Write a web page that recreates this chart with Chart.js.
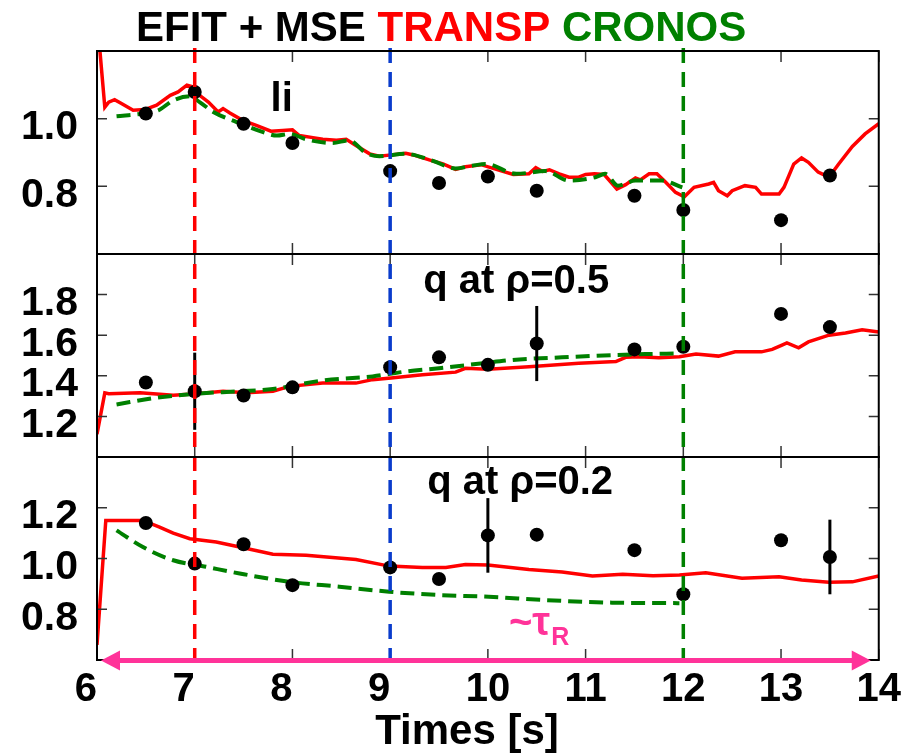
<!DOCTYPE html>
<html>
<head>
<meta charset="utf-8">
<script src="https://cdn.jsdelivr.net/npm/chart.js@4.4.1/dist/chart.umd.min.js"></script>
<style>
  html, body { margin: 0; padding: 0; background: #fff; }
  canvas { display: block; }
</style>
</head>
<body>
<canvas id="chart" width="907" height="754"></canvas>
<script>
// ---- EFIT + MSE reconstructions (dots) ----
const efitTimes = [6.5, 7.0, 7.5, 8.0, 9.0, 9.5, 10.0, 10.5, 11.5, 12.0, 13.0, 13.5];
const efitLi    = [1.015, 1.079, 0.985, 0.928, 0.845, 0.810, 0.829, 0.787, 0.772, 0.730, 0.700, 0.832];
const efitQ05   = [1.367, 1.324, 1.303, 1.343, 1.442, 1.491, 1.454, 1.559, 1.530, 1.543, 1.705, 1.640];
const efitQ05Err = [0, 0.19, 0, 0, 0, 0, 0, 0.185, 0, 0, 0, 0];
const efitQ02   = [1.140, 0.980, 1.056, 0.895, 0.965, 0.919, 1.091, 1.094, 1.033, 0.859, 1.072, 1.006];
const efitQ02Err = [0, 0, 0, 0, 0, 0, 0.147, 0, 0, 0, 0, 0.147];

// ---- TRANSP (red) ----
const transpLiTimes = [6.0, 6.03, 6.08, 6.12, 6.18, 6.25, 6.37, 6.49, 6.61, 6.75, 6.83, 6.92, 6.98, 7.05, 7.14, 7.24, 7.29, 7.36, 7.49, 7.63, 7.78, 7.9, 8.0, 8.07, 8.21, 8.31, 8.45, 8.55, 8.65, 8.79, 8.89, 9.01, 9.16, 9.26, 9.4, 9.54, 9.67, 9.77, 9.93, 10.12, 10.26, 10.42, 10.49, 10.56, 10.63, 10.73, 10.83, 10.93, 11.0, 11.09, 11.19, 11.26, 11.32, 11.41, 11.51, 11.56, 11.65, 11.73, 11.82, 11.92, 12.01, 12.11, 12.26, 12.31, 12.36, 12.45, 12.5, 12.63, 12.74, 12.8, 12.98, 13.03, 13.13, 13.21, 13.28, 13.38, 13.49, 13.59, 13.73, 13.86, 14.0];
const transpLi      = [1.25, 1.2, 1.034, 1.049, 1.056, 1.045, 1.025, 1.027, 1.04, 1.069, 1.079, 1.099, 1.094, 1.069, 1.049, 1.02, 1.03, 1.017, 0.995, 0.98, 0.963, 0.965, 0.967, 0.95, 0.944, 0.939, 0.936, 0.939, 0.921, 0.896, 0.889, 0.893, 0.898, 0.891, 0.878, 0.866, 0.85, 0.858, 0.864, 0.847, 0.835, 0.837, 0.855, 0.844, 0.849, 0.837, 0.827, 0.827, 0.835, 0.837, 0.835, 0.812, 0.792, 0.805, 0.825, 0.819, 0.837, 0.837, 0.812, 0.782, 0.769, 0.797, 0.807, 0.812, 0.787, 0.772, 0.787, 0.802, 0.797, 0.777, 0.777, 0.797, 0.866, 0.884, 0.871, 0.842, 0.827, 0.866, 0.918, 0.955, 0.985];

const transpQ05Times = [6.0, 6.08, 6.12, 6.44, 6.78, 7.02, 7.29, 7.53, 7.8, 7.97, 8.31, 8.65, 8.82, 9.01, 9.33, 9.67, 9.77, 10.0, 10.42, 10.93, 11.31, 11.41, 11.55, 11.75, 11.96, 12.13, 12.36, 12.53, 12.8, 12.91, 13.01, 13.06, 13.18, 13.28, 13.49, 13.66, 13.83, 14.0];
const transpQ05      = [1.113, 1.316, 1.312, 1.316, 1.304, 1.312, 1.324, 1.316, 1.324, 1.348, 1.364, 1.364, 1.381, 1.389, 1.405, 1.418, 1.437, 1.432, 1.445, 1.462, 1.47, 1.491, 1.494, 1.489, 1.494, 1.507, 1.497, 1.518, 1.518, 1.53, 1.551, 1.562, 1.538, 1.567, 1.6, 1.611, 1.627, 1.616];

const transpQ02Times = [6.0, 6.09, 6.47, 6.64, 6.78, 6.95, 7.22, 7.46, 7.8, 8.14, 8.65, 8.99, 9.33, 9.57, 9.77, 10.0, 10.42, 10.76, 11.07, 11.38, 11.69, 11.96, 12.23, 12.6, 12.98, 13.21, 13.49, 13.73, 14.0];
const transpQ02      = [0.66, 1.15, 1.15, 1.124, 1.1, 1.078, 1.065, 1.045, 1.017, 1.013, 0.996, 0.97, 0.965, 0.965, 0.976, 0.974, 0.957, 0.947, 0.931, 0.938, 0.932, 0.935, 0.944, 0.922, 0.928, 0.915, 0.906, 0.908, 0.931];

// ---- CRONOS (green) ----
const cronosLiTimes = [6.2, 6.47, 6.63, 6.78, 6.95, 7.05, 7.19, 7.43, 7.7, 7.84, 7.97, 8.14, 8.41, 8.58, 8.75, 8.89, 9.16, 9.43, 9.67, 9.84, 9.98, 10.29, 10.59, 10.83, 11.1, 11.2, 11.33, 11.51, 11.78, 11.99];
const cronosLi      = [1.007, 1.015, 1.025, 1.054, 1.066, 1.049, 1.02, 0.99, 0.96, 0.95, 0.955, 0.939, 0.928, 0.936, 0.899, 0.889, 0.896, 0.876, 0.853, 0.861, 0.866, 0.837, 0.845, 0.817, 0.827, 0.837, 0.802, 0.817, 0.817, 0.797];

const cronosQ05Times = [6.2, 6.61, 7.02, 7.46, 7.8, 8.31, 8.82, 9.16, 9.5, 9.95, 10.25, 10.76, 11.27, 11.61, 11.96];
const cronosQ05      = [1.259, 1.292, 1.312, 1.324, 1.335, 1.377, 1.397, 1.421, 1.437, 1.462, 1.478, 1.491, 1.502, 1.507, 1.51];

const cronosQ02Times = [6.2, 6.47, 6.78, 7.12, 7.46, 7.97, 8.48, 8.99, 9.5, 10.01, 10.59, 11.27, 11.96];
const cronosQ02      = [1.111, 1.045, 0.993, 0.967, 0.941, 0.908, 0.889, 0.869, 0.856, 0.849, 0.836, 0.826, 0.824];

// ---- axes ----
const timeTicks = [6, 7, 8, 9, 10, 11, 12, 13, 14];
const liTicks   = [0.8, 1.0];
const q05Ticks  = [1.2, 1.4, 1.6, 1.8];
const q02Ticks  = [0.8, 1.0, 1.2];

// time slices marked by vertical dashed lines
const markerTimes = [7, 9, 12];

const FONT = "'Liberation Sans', Arial, Helvetica, sans-serif";
const RED = '#ff0000';
const GREEN = '#008000';
const BLUE = '#0a3ccc';
const PINK = '#ff3399';
const markerColors = [RED, BLUE, GREEN];

const zip = (t, v) => t.map((x, i) => ({ x, y: v[i] }));

function transpSet(t, v, axis) {
  return { data: zip(t, v), yAxisID: axis, borderColor: RED, borderWidth: 3.5,
           pointRadius: 0, tension: 0, fill: false, order: 3 };
}
function cronosSet(t, v, axis) {
  return { data: zip(t, v), yAxisID: axis, borderColor: GREEN, borderWidth: 4,
           borderDash: [14, 7], pointRadius: 0, cubicInterpolationMode: 'monotone',
           fill: false, order: 2 };
}
function efitSet(v, err, axis) {
  return { data: zip(efitTimes, v), errors: err, yAxisID: axis, showLine: false,
           pointRadius: 7, pointBackgroundColor: '#000', pointBorderWidth: 0, order: 1 };
}

function yScale(min, max, ticks, weight) {
  return {
    type: 'linear', position: 'left', stack: 'panels', stackWeight: 1, weight,
    min, max,
    afterBuildTicks: s => { s.ticks = ticks.map(value => ({ value })); },
    afterFit: s => { s.width = 97; },
    grid: { display: false, drawTicks: false },
    border: { display: false },
    ticks: {
      font: { family: FONT, size: 41, weight: 'bold' }, color: '#000',
      padding: 19, labelOffset: 9, autoSkip: false,
      callback: v => Number(v).toFixed(1)
    }
  };
}

// frames, inward ticks, error bars, time markers and annotations
const decorations = {
  id: 'decorations',
  afterDatasetsDraw(chart) {
    const { ctx, chartArea: a, scales } = chart;
    const xs = scales.x;
    const panels = [scales.yLi, scales.yQ05, scales.yQ02];
    ctx.save();

    // error bars
    ctx.strokeStyle = '#000';
    ctx.lineWidth = 3;
    chart.data.datasets.forEach(ds => {
      if (!ds.errors) return;
      const ys = scales[ds.yAxisID];
      ds.data.forEach((p, i) => {
        const e = ds.errors[i];
        if (!e) return;
        const px = xs.getPixelForValue(p.x);
        ctx.beginPath();
        ctx.moveTo(px, ys.getPixelForValue(p.y - e));
        ctx.lineTo(px, ys.getPixelForValue(p.y + e));
        ctx.stroke();
      });
    });

    // inward tick marks
    ctx.strokeStyle = '#333';
    ctx.lineWidth = 1.5;
    panels.forEach(ys => {
      xs.ticks.forEach(t => {
        const px = xs.getPixelForValue(t.value);
        ctx.beginPath();
        ctx.moveTo(px, ys.top); ctx.lineTo(px, ys.top + 11);
        ctx.moveTo(px, ys.bottom); ctx.lineTo(px, ys.bottom - 11);
        ctx.stroke();
      });
      ys.ticks.forEach(t => {
        const py = ys.getPixelForValue(t.value);
        ctx.beginPath();
        ctx.moveTo(a.left, py); ctx.lineTo(a.left + 10, py);
        ctx.moveTo(a.right, py); ctx.lineTo(a.right - 10, py);
        ctx.stroke();
      });
    });

    // vertical time markers
    ctx.lineWidth = 3.5;
    ctx.setLineDash([15, 9]);
    markerTimes.forEach((t, i) => {
      const px = xs.getPixelForValue(t);
      ctx.strokeStyle = markerColors[i];
      ctx.beginPath();
      ctx.moveTo(px, a.top - 3);
      ctx.lineTo(px, a.bottom);
      ctx.stroke();
    });
    ctx.setLineDash([]);

    // panel frames
    ctx.strokeStyle = '#000';
    ctx.lineWidth = 2;
    panels.forEach(ys => {
      ctx.strokeRect(a.left, ys.top, a.right - a.left, ys.bottom - ys.top);
    });

    // panel labels
    ctx.fillStyle = '#000';
    ctx.textAlign = 'center';
    ctx.textBaseline = 'alphabetic';
    ctx.font = `bold 40px ${FONT}`;
    ctx.fillText('li', xs.getPixelForValue(7.89), scales.yLi.getPixelForValue(1.023));
    ctx.font = `bold 40px ${FONT}`;
    ctx.fillText('q at \u03C1=0.5', xs.getPixelForValue(10.29), scales.yQ05.getPixelForValue(1.807));
    ctx.fillText('q at \u03C1=0.2', xs.getPixelForValue(10.33), scales.yQ02.getPixelForValue(1.256));

    // resistive time arrow across the window
    const yArr = a.bottom + 0.5;
    const xl = xs.getPixelForValue(6) + 4, xr = xs.getPixelForValue(14) - 8;
    ctx.strokeStyle = PINK;
    ctx.fillStyle = PINK;
    ctx.lineWidth = 5;
    ctx.beginPath();
    ctx.moveTo(xl + 15, yArr); ctx.lineTo(xr - 15, yArr);
    ctx.stroke();
    ctx.beginPath();
    ctx.moveTo(xl, yArr); ctx.lineTo(xl + 19, yArr - 10); ctx.lineTo(xl + 19, yArr + 10); ctx.closePath();
    ctx.fill();
    ctx.beginPath();
    ctx.moveTo(xr, yArr); ctx.lineTo(xr - 19, yArr - 10); ctx.lineTo(xr - 19, yArr + 10); ctx.closePath();
    ctx.fill();

    ctx.textAlign = 'left';
    ctx.font = `bold 40px ${FONT}`;
    const tx = 509, ty = 635;
    ctx.fillText('~\u03C4', tx, ty);
    const w = ctx.measureText('~\u03C4').width;
    ctx.font = `bold 25px ${FONT}`;
    ctx.fillText('R', tx + w + 1, ty + 10);

    ctx.restore();
  },
  afterDraw(chart) {
    const { ctx } = chart;
    ctx.save();
    ctx.textBaseline = 'alphabetic';
    ctx.textAlign = 'left';
    ctx.font = `bold 42px ${FONT}`;
    const parts = [['EFIT + MSE ', '#000'], ['TRANSP ', RED], ['CRONOS', GREEN]];
    let x = 136;
    parts.forEach(([s, c]) => {
      ctx.fillStyle = c;
      ctx.fillText(s, x, 41);
      x += ctx.measureText(s).width;
    });
    ctx.fillStyle = '#000';
    ctx.textAlign = 'center';
    ctx.fillText('Times [s]', 467, 744);
    ctx.restore();
  }
};

new Chart(document.getElementById('chart'), {
  type: 'line',
  data: {
    datasets: [
      efitSet(efitLi, null, 'yLi'),
      efitSet(efitQ05, efitQ05Err, 'yQ05'),
      efitSet(efitQ02, efitQ02Err, 'yQ02'),
      cronosSet(cronosLiTimes, cronosLi, 'yLi'),
      cronosSet(cronosQ05Times, cronosQ05, 'yQ05'),
      cronosSet(cronosQ02Times, cronosQ02, 'yQ02'),
      transpSet(transpLiTimes, transpLi, 'yLi'),
      transpSet(transpQ05Times, transpQ05, 'yQ05'),
      transpSet(transpQ02Times, transpQ02, 'yQ02')
    ]
  },
  options: {
    responsive: false,
    animation: false,
    devicePixelRatio: 1,
    layout: { padding: { top: 51, right: 27, bottom: 0, left: 0 } },
    plugins: { legend: { display: false }, tooltip: { enabled: false }, title: { display: false } },
    scales: {
      x: {
        type: 'linear', position: 'bottom', min: 6, max: 14,
        afterBuildTicks: s => { s.ticks = timeTicks.map(value => ({ value })); },
        afterFit: s => { s.height = 94; },
        grid: { display: false, drawTicks: false },
        border: { display: false },
        ticks: {
          font: { family: FONT, size: 40, weight: 'bold' }, color: '#000',
          padding: 6, maxRotation: 0, autoSkip: false,
          callback: v => (v < 10 ? v + '  ' : String(v))
        }
      },
      yQ02: yScale(0.6, 1.4, q02Ticks, 1),
      yQ05: yScale(1.0, 2.0, q05Ticks, 2),
      yLi: yScale(0.6, 1.2, liTicks, 3)
    }
  },
  plugins: [decorations]
});
</script>
</body>
</html>
